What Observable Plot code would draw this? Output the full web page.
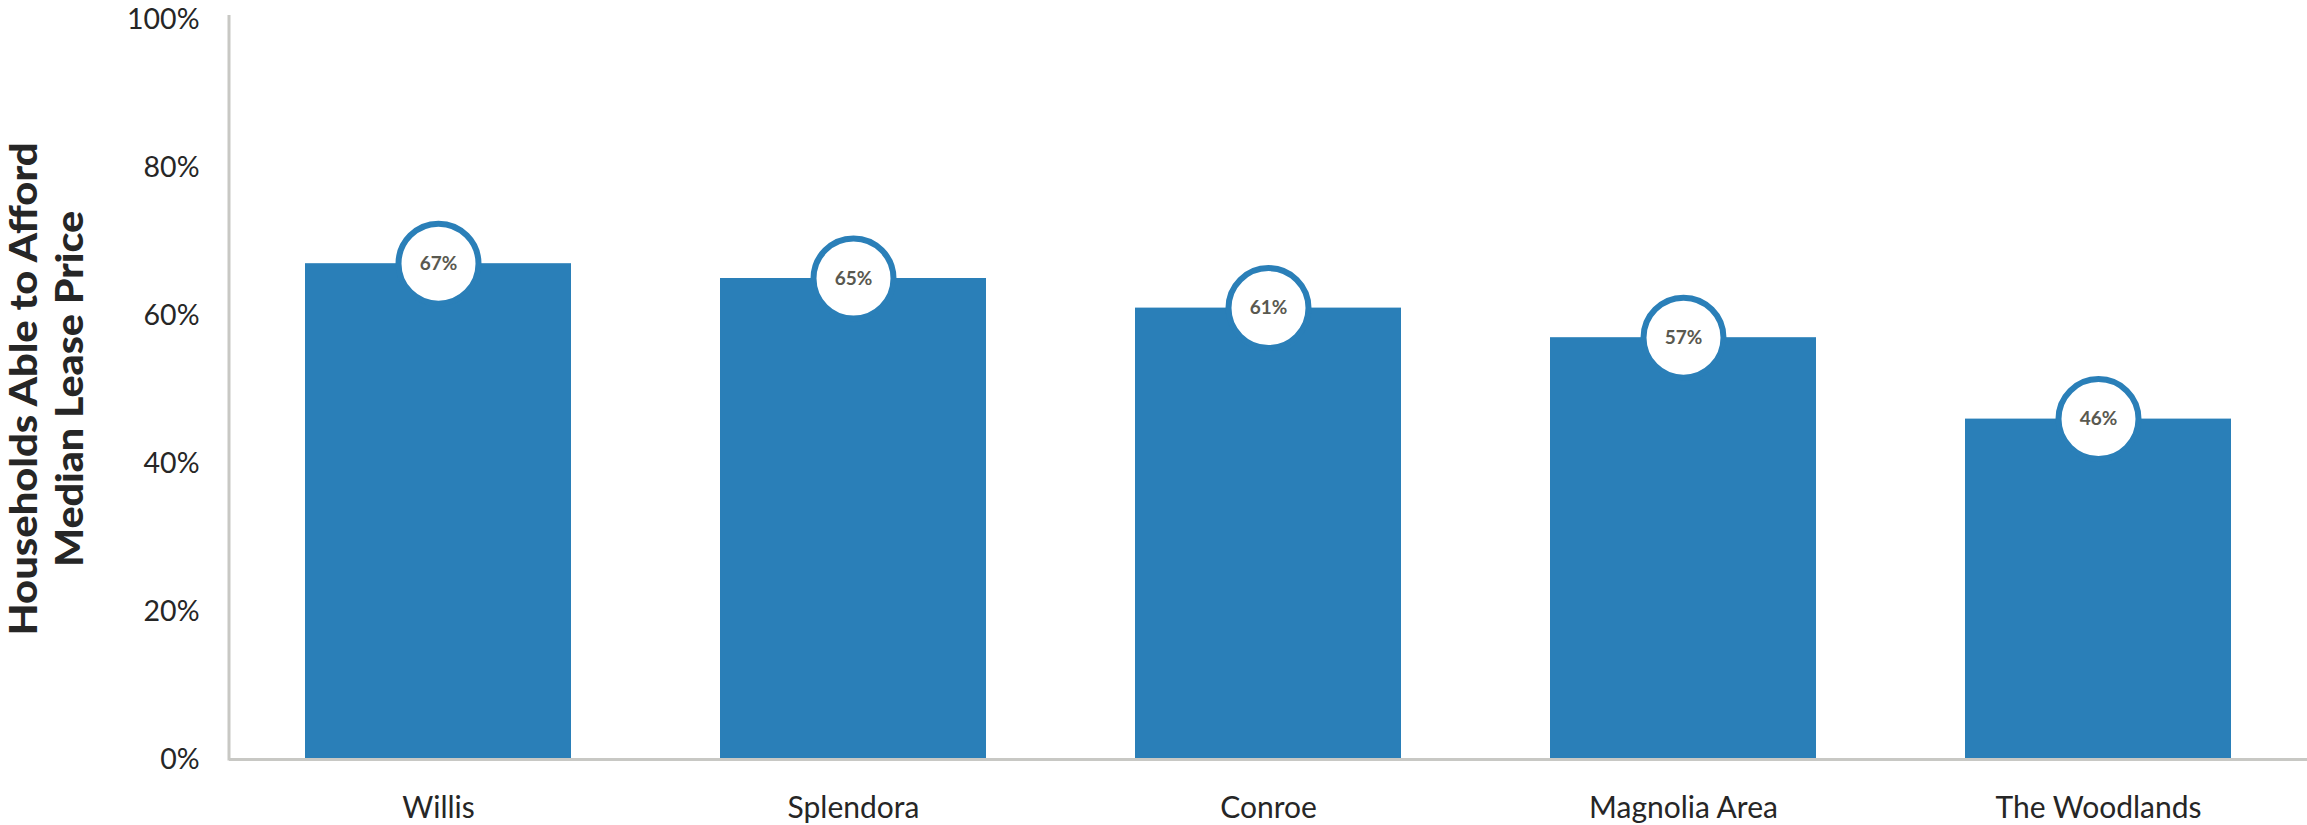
<!DOCTYPE html>
<html>
<head>
<meta charset="utf-8">
<script src="https://cdn.jsdelivr.net/npm/d3@7"></script>
<script src="https://cdn.jsdelivr.net/npm/@observablehq/plot@0.6"></script>
<style>
  html, body { margin: 0; padding: 0; background: #ffffff; }
  #chart svg { display: block; }
</style>
</head>
<body>
<div id="chart"></div>
<script>
// Data
const areas = ["Willis", "Splendora", "Conroe", "Magnolia Area", "The Woodlands"];
const shares = [67, 65, 61, 57, 46];
const yTicks = [0, 20, 40, 60, 80, 100];
const titleLines = ["Households Able to Afford", "Median Lease Price"];

const rows = areas.map((a, i) => ({area: a, value: shares[i]}));

const W = 2307, H = 825;
const barColor = "#2a7fb8";
const axisGray = "#c8c8c4";

const plot = Plot.plot({
  width: W,
  height: H,
  marginLeft: 229,
  marginRight: 0,
  marginTop: 19,
  marginBottom: 66,
  style: {fontFamily: "Lato, 'Open Sans', sans-serif", fontSize: "28px", color: "#262626", background: "#ffffff"},
  x: {domain: areas, paddingInner: 0.36, paddingOuter: 0.18, label: null},
  y: {domain: [0, 100], ticks: yTicks, label: null},
  marks: [
    Plot.barY(rows, {x: "area", y: "value", fill: barColor}),
    Plot.ruleY([0], {stroke: axisGray, strokeWidth: 3}),
    Plot.axisY({ticks: yTicks, tickSize: 0, tickPadding: 30, tickFormat: d => d + "%", fontSize: 28.5, label: null}),
    Plot.axisX({tickSize: 0, tickPadding: 37, fontSize: 30, label: null}),
    Plot.dot(rows, {x: "area", y: "value", r: 40, fill: "#ffffff", stroke: barColor, strokeWidth: 6}),
    Plot.text(rows, {x: "area", y: "value", text: d => d.value + "%", fill: "#595950", fontSize: 19, fontWeight: 700})
  ]
});

const svg = d3.select(plot);
// vertical axis line at the left edge of the x range
const xr = plot.scale("x").range;
const yr = plot.scale("y").range;
svg.insert("line", ":first-child")
  .attr("x1", xr[0]).attr("x2", xr[0])
  .attr("y1", Math.min(yr[0], yr[1]) - 4).attr("y2", Math.max(yr[0], yr[1]) + 1.5)
  .attr("stroke", axisGray).attr("stroke-width", 3);

// rotated two-line y-axis title
const cy = (yr[0] + yr[1]) / 2;
const lens = [493, 356];
const baselines = [37, 83];
titleLines.forEach((t, i) => {
  svg.append("text")
    .attr("transform", `translate(${baselines[i]},${cy}) rotate(-90)`)
    .attr("text-anchor", "middle")
    .attr("font-family", "Lato, sans-serif")
    .attr("font-weight", 900)
    .attr("font-size", 37.4)
    .attr("fill", "#262626")
    .attr("textLength", lens[i])
    .attr("lengthAdjust", "spacingAndGlyphs")
    .text(t);
});

document.getElementById("chart").appendChild(plot);
</script>
</body>
</html>
